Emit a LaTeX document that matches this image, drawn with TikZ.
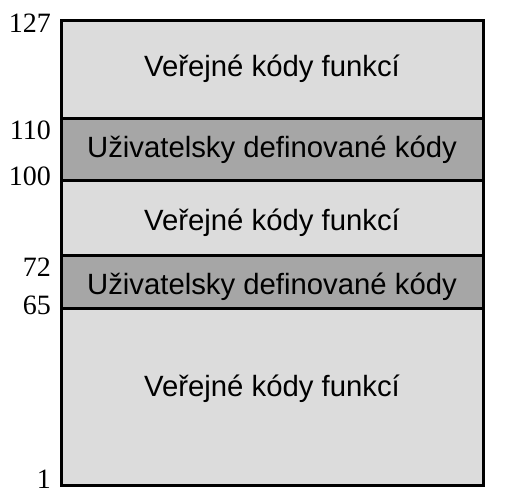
\documentclass[tikz,border=0pt]{standalone}
\usepackage{fontspec}
\setmainfont{Liberation Serif}
\setsansfont{Liberation Sans}
\definecolor{lightband}{RGB}{220,220,220}
\definecolor{darkband}{RGB}{166,166,166}
\tikzset{
  bandtext/.style={anchor=base, inner sep=0pt, font=\sffamily\fontsize{29.3}{29.3}\selectfont},
  numtext/.style={anchor=base east, inner sep=0pt, font=\rmfamily\fontsize{28}{28}\selectfont},
  sep/.style={line width=3pt}
}
\begin{document}
\begin{tikzpicture}[x=1pt,y=1pt]
\useasboundingbox (0,0) rectangle (506,501);
% bands
\fill[lightband] (61,382) rectangle (483,480);
\fill[darkband] (61,320) rectangle (483,382);
\fill[lightband] (61,245) rectangle (483,320);
\fill[darkband] (61,192) rectangle (483,245);
\fill[lightband] (61,16) rectangle (483,192);
% separators
\draw[sep] (61,382) -- (483,382);
\draw[sep] (61,320) -- (483,320);
\draw[sep] (61,245) -- (483,245);
\draw[sep] (61,192) -- (483,192);
\draw[sep] (61,16) rectangle (483,480);
% texts
\node[bandtext] (t1) at (272,424) {Veřejné kódy funkcí};
\node[bandtext] (t2) at (272,343) {Uživatelsky definované kódy};
\node[bandtext] (t3) at (272,270) {Veřejné kódy funkcí};
\node[bandtext] (t4) at (272,206) {Uživatelsky definované kódy};
\node[bandtext] (t5) at (272,104) {Veřejné kódy funkcí};
% numbers
\node[numtext] (n127) at (51,468) {127};
\node[numtext] (n110) at (51,361) {110};
\node[numtext] (n100) at (51,315) {100};
\node[numtext] (n72) at (51,224) {72};
\node[numtext] (n65) at (51,186) {65};
\node[numtext] (n1) at (51,13) {1};
\end{tikzpicture}
\end{document}
